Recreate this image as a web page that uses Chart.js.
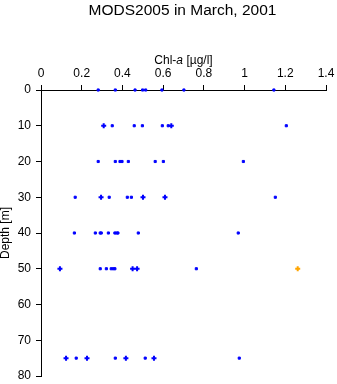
<!DOCTYPE html>
<html>
<head>
<meta charset="utf-8">
<script src="https://cdn.jsdelivr.net/npm/chart.js@4"></script>
<style>
  html, body { margin: 0; padding: 0; background: #fff; }
  #wrap { width: 337px; height: 384px; }
</style>
</head>
<body>
<div id="wrap"><canvas id="c" width="337" height="384"></canvas></div>
<script>
// Chlorophyll-a profiles, March 2001 (µg/l against depth in m)
const squareChl   = [0.281, 0.365, 0.462, 0.499, 0.514, 0.594, 0.702, 1.144,
                     0.350, 0.458, 0.498, 0.596, 0.625, 1.205,
                     0.281, 0.365, 0.388, 0.398, 0.429, 0.561, 0.601, 0.994,
                     0.168, 0.335, 0.424, 0.444, 1.151,
                     0.164, 0.267, 0.291, 0.296, 0.331, 0.363, 0.372, 0.378, 0.478, 0.969,
                     0.291, 0.321, 0.345, 0.355, 0.363, 0.763,
                     0.173, 0.365, 0.512, 0.974];
const squareDepth = [0, 0, 0, 0, 0, 0, 0, 0,
                     10, 10, 10, 10, 10, 10,
                     20, 20, 20, 20, 20, 20, 20, 20,
                     30, 30, 30, 30, 30,
                     40, 40, 40, 40, 40, 40, 40, 40, 40, 40,
                     50, 50, 50, 50, 50, 50,
                     75, 75, 75, 75];
const crossChl    = [0.308, 0.640, 0.295, 0.501, 0.609, 0.093, 0.450, 0.472, 0.123, 0.226, 0.417, 0.555];
const crossDepth  = [10, 10, 30, 30, 30, 50, 50, 50, 75, 75, 75, 75];
const flaggedChl  = [1.261];
const flaggedDepth = [50];

const xTicks = [0, 0.2, 0.4, 0.6, 0.8, 1, 1.2, 1.4];
const yTicks = [0, 10, 20, 30, 40, 50, 60, 70, 80];

const FONT = '"Liberation Sans", Arial, Helvetica, sans-serif';
const pts = (xs, ys) => xs.map((v, i) => ({ x: v, y: ys[i] }));

// Let the layout padding alone decide the plot edges
const noOverhang = s => { s.paddingLeft = s.paddingRight = s.paddingTop = s.paddingBottom = 0; };

// Chart title and axis titles (x title mixes upright and italic text)
const labelsPlugin = {
  id: 'labels',
  afterDraw(chart) {
    const ctx = chart.ctx;
    const a = chart.chartArea;
    const cx = (a.left + a.right) / 2;
    ctx.save();
    ctx.fillStyle = '#000';
    ctx.textBaseline = 'alphabetic';
    ctx.textAlign = 'center';
    ctx.font = '15.5px ' + FONT;
    ctx.fillText('MODS2005 in March, 2001', cx - 1, 15);

    const parts = [['Chl-', ''], ['a', 'italic '], [' [µg/l]', '']];
    let w = 0;
    parts.forEach(p => { ctx.font = p[1] + '12px ' + FONT; w += ctx.measureText(p[0]).width; });
    let x = cx - w / 2;
    ctx.textAlign = 'left';
    parts.forEach(p => {
      ctx.font = p[1] + '12px ' + FONT;
      ctx.fillText(p[0], x, 64);
      x += ctx.measureText(p[0]).width;
    });

    ctx.translate(9, (a.top + a.bottom) / 2);
    ctx.rotate(-Math.PI / 2);
    ctx.textAlign = 'center';
    ctx.font = '12px ' + FONT;
    ctx.fillText('Depth [m]', 0, 0);
    ctx.restore();
  }
};

new Chart(document.getElementById('c'), {
  type: 'scatter',
  data: {
    datasets: [
      { data: pts(squareChl, squareDepth), pointStyle: 'rect', radius: 1.5, borderWidth: 1,
        backgroundColor: '#0000ff', borderColor: '#0000ff', clip: false },
      { data: pts(crossChl, crossDepth), pointStyle: 'cross', radius: 2.5, borderWidth: 2,
        backgroundColor: '#0000ff', borderColor: '#0000ff', clip: false },
      { data: pts(flaggedChl, flaggedDepth), pointStyle: 'cross', radius: 2.5, borderWidth: 2,
        backgroundColor: '#ffa500', borderColor: '#ffa500', clip: false }
    ]
  },
  options: {
    responsive: false,
    animation: false,
    events: [],
    layout: { padding: { left: 0, top: 0, right: 11, bottom: 8 } },
    plugins: { legend: { display: false }, title: { display: false }, tooltip: { enabled: false } },
    scales: {
      x: {
        type: 'linear', position: 'top', min: 0, max: 1.4,
        afterBuildTicks: s => { s.ticks = xTicks.map(v => ({ value: v })); },
        afterFit: s => { s.height = 90; noOverhang(s); },
        ticks: { color: '#000', padding: 4, maxRotation: 0, font: { family: FONT, size: 12 },
                 callback: v => String(v) },
        grid: { display: true, drawOnChartArea: false, drawTicks: true, tickLength: 5, color: '#000', lineWidth: 1 },
        border: { display: true, color: '#000', width: 1 }
      },
      y: {
        type: 'linear', position: 'left', reverse: true, min: 0, max: 80,
        afterBuildTicks: s => { s.ticks = yTicks.map(v => ({ value: v })); },
        afterFit: s => { s.width = 41; noOverhang(s); },
        ticks: { color: '#000', padding: 5, font: { family: FONT, size: 12 },
                 callback: v => String(v) },
        grid: { display: true, drawOnChartArea: false, drawTicks: true, tickLength: 5, color: '#000', lineWidth: 1 },
        border: { display: true, color: '#000', width: 1 }
      }
    }
  },
  plugins: [labelsPlugin]
});
</script>
</body>
</html>
